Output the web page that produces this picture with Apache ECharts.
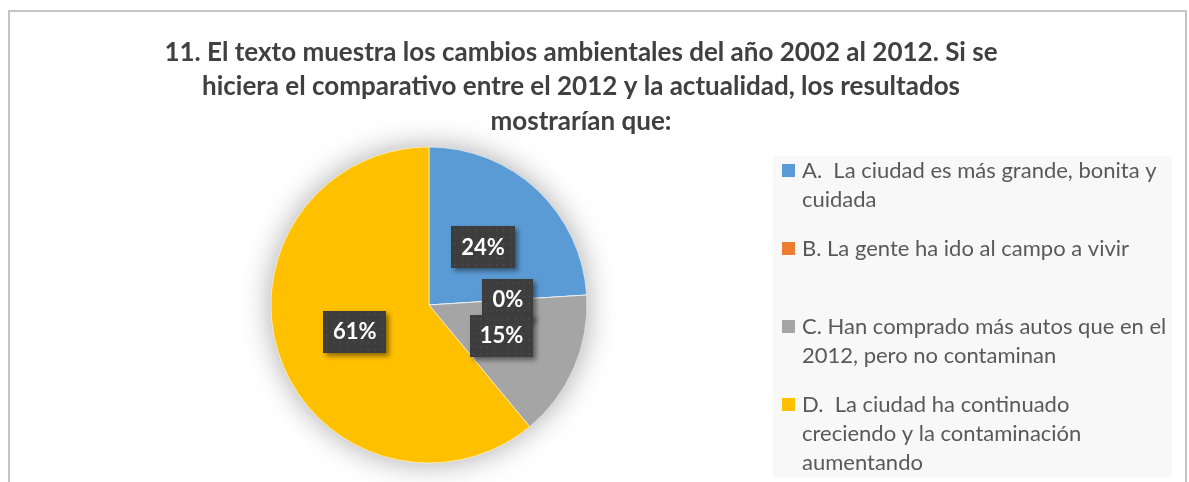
<!DOCTYPE html>
<html>
<head>
<meta charset="utf-8">
<script src="https://cdn.jsdelivr.net/npm/echarts@6/dist/echarts.min.js"></script>
<style>
html,body{margin:0;padding:0;background:#fff;}
#c{width:1189px;height:482px;}
</style>
</head>
<body>
<div id="c"></div>
<script>
// ---- data ----
const titleText = '11. El texto muestra los cambios ambientales del año 2002 al 2012. Si se\nhiciera el comparativo entre el 2012 y la actualidad, los resultados\nmostrarían que:';
const categories = [
  'A.  La ciudad es más grande, bonita y cuidada',
  'B. La gente ha ido al campo a vivir',
  'C. Han comprado más autos que en el 2012, pero no contaminan',
  'D.  La ciudad ha continuado creciendo y la contaminación aumentando'
];
const legendLines = [
  ['A.  La ciudad es más grande, bonita y', 'cuidada'],
  ['B. La gente ha ido al campo a vivir', ' '],
  ['C. Han comprado más autos que en el', '2012, pero no contaminan'],
  ['D.  La ciudad ha continuado', 'creciendo y la contaminación', 'aumentando']
];
const values = [24, 0, 15, 61];
const colors = ['#5b9bd5', '#ed7d31', '#a5a5a5', '#ffc000'];

// dotted label background
const pat = document.createElement('canvas');
pat.width = 64; pat.height = 42;
(function(){
  const g = pat.getContext('2d');
  g.fillStyle = '#3d3d3d'; g.fillRect(0,0,64,42);
  g.fillStyle = '#565656';
  for (let y = 3; y < 42; y += 7) for (let x = 3; x < 64; x += 7) g.fillRect(x, y, 1.4, 1.4);
})();

const chart = echarts.init(document.getElementById('c'), null, {renderer: 'canvas'});
const FONT = 'Lato, "Open Sans", sans-serif';

const LH = 29;
const rich = {
  t: {fontFamily: FONT, fontSize: 22, color: '#595959', lineHeight: LH},
  g: {width: 7, height: 13, lineHeight: LH},
  sp: {width: 20, height: 13, lineHeight: LH}
};
colors.forEach((c, i) => { rich['m' + i] = {width: 13, height: 13, lineHeight: LH, backgroundColor: c}; });

const total = values.reduce((a, b) => a + b, 0);
const pieData = categories.map((n, i) => ({name: n, value: values[i], itemStyle: {color: colors[i]}}));
// label anchors in polar coords: [radius fraction, mid value of slice]
let acc = 0;
const labelData = values.map((v) => { const mid = acc + v / 2; acc += v; return {value: [0.5, mid], pct: Math.round(v / total * 100)}; });

const CENTER = [429, 305], R = 158;

chart.setOption({
  animation: false,
  graphic: [
    {type: 'rect', shape: {x: 9, y: 11, width: 1177, height: 520}, style: {fill: 'none', stroke: '#c4c4c4', lineWidth: 2}, z: 0}
  ],
  title: {
    text: titleText,
    left: 581,
    top: 35,
    textAlign: 'center',
    padding: 0,
    textStyle: {fontFamily: FONT, fontSize: 26, fontWeight: 'bold', color: '#404040', lineHeight: 34.5}
  },
  legend: {
    orient: 'vertical',
    left: 773,
    top: 156,
    height: 420,
    padding: [0, 6, 0, 4],
    backgroundColor: '#f8f8f8',
    icon: 'none',
    itemWidth: 0,
    itemHeight: 14,
    itemGap: 20,
    selectedMode: false,
    data: categories,
    formatter: function (name) {
      const i = categories.indexOf(name);
      return legendLines[i].map((l, k) => (k === 0 ? '{m' + i + '|}{g|}' : '{sp|}') + '{t|' + l + '}').join('\n');
    },
    textStyle: {lineHeight: LH, rich: rich}
  },
  polar: {center: CENTER, radius: R},
  angleAxis: {type: 'value', min: 0, max: total, startAngle: 90, clockwise: true, show: false},
  radiusAxis: {type: 'value', min: 0, max: 1, show: false},
  series: [
    {
      type: 'pie',
      silent: true,
      center: CENTER,
      radius: R,
      startAngle: 90,
      z: 1,
      label: {show: false},
      labelLine: {show: false},
      itemStyle: {shadowBlur: 30, shadowColor: 'rgba(0,0,0,0.35)'},
      data: pieData,
      legendHoverLink: false
    },
    {
      type: 'pie',
      center: CENTER,
      radius: R,
      startAngle: 90,
      z: 2,
      itemStyle: {borderColor: '#ffffff', borderWidth: 0.6},
      label: {show: false},
      labelLine: {show: false},
      data: pieData
    },
    {
      type: 'scatter',
      coordinateSystem: 'polar',
      silent: true,
      z: 5,
      symbol: 'circle',
      symbolSize: 2,
      itemStyle: {color: 'rgba(0,0,0,0)'},
      label: {
        show: true,
        position: 'inside',
        opacity: 1,
        formatter: (p) => '{d|' + p.data.pct + '%}',
        backgroundColor: {image: pat},
        padding: [9, 10, 9, 10],
        shadowColor: 'rgba(0,0,0,0.45)',
        shadowBlur: 5,
        shadowOffsetX: 3,
        shadowOffsetY: 3,
        rich: {d: {fontFamily: FONT, fontSize: 22, fontWeight: 'bold', color: '#ffffff', lineHeight: 24}}
      },
      labelLayout: {hideOverlap: false},
      data: labelData
    }
  ]
});
</script>
</body>
</html>
